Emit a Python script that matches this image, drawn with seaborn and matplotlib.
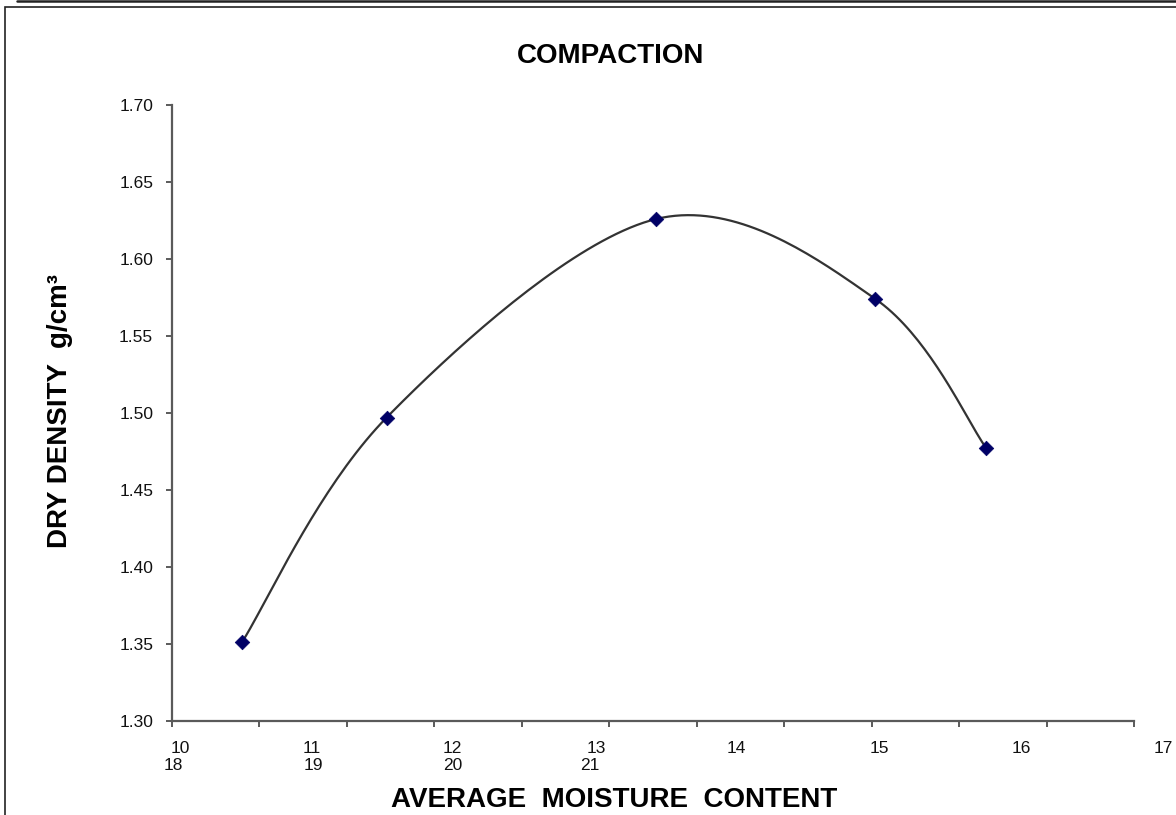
import numpy as np
import pandas as pd
import matplotlib
matplotlib.use("Agg")
import matplotlib.pyplot as plt
import seaborn as sns
from matplotlib.lines import Line2D
from matplotlib.patches import Rectangle

# Compaction test results
moisture = [10.44, 11.47, 13.39, 14.95, 15.74]
dry_density = [1.351, 1.497, 1.626, 1.574, 1.477]

# Axis text (two rows of category labels under the x axis)
x_labels_top = ["10", "11", "12", "13", "14", "15", "16", "17"]
x_pos_top = [10.0, 10.94, 11.94, 12.96, 13.96, 14.98, 15.99, 17.0]
x_labels_bottom = ["18", "19", "20", "21"]
x_pos_bottom = [9.95, 10.95, 11.94, 12.92]
y_ticks = [1.30, 1.35, 1.40, 1.45, 1.50, 1.55, 1.60, 1.65, 1.70]


def smooth_curve(xs, ys, n=40):
    """Catmull-Rom smoothing through every point (spreadsheet-style smoothed line)."""
    p = np.column_stack([xs, ys]).astype(float)
    p = np.vstack([p[0], p, p[-1]])
    out = []
    t = np.linspace(0, 1, n)[:, None]
    for i in range(1, len(p) - 2):
        p0, p1, p2, p3 = p[i - 1], p[i], p[i + 1], p[i + 2]
        c1 = p1 + (p2 - p0) / 6.0
        c2 = p2 - (p3 - p1) / 6.0
        seg = ((1 - t) ** 3) * p1 + 3 * ((1 - t) ** 2) * t * c1 + 3 * (1 - t) * t ** 2 * c2 + t ** 3 * p2
        out.append(seg if i == 1 else seg[1:])
    return np.vstack(out)


sns.set_theme(style="white")
plt.rcParams["font.family"] = ["Liberation Sans", "DejaVu Sans"]

W, H = 1176, 815
fig = plt.figure(figsize=(W / 100, H / 100), dpi=100)
ax = fig.add_axes([172 / W, 1 - 721 / H, (1134 - 172) / W, (721 - 105) / H])

df = pd.DataFrame({"moisture": moisture, "density": dry_density})
curve = smooth_curve(df["moisture"].values, df["density"].values)
cdf = pd.DataFrame({"x": curve[:, 0], "y": curve[:, 1]})

sns.lineplot(data=cdf, x="x", y="y", ax=ax, color="#333333", lw=1.6, sort=False, estimator=None)
sns.scatterplot(data=df, x="moisture", y="density", ax=ax, marker="D", s=55,
                color="#000066", edgecolor="#000066", linewidth=0.5, zorder=5)

x0, x1 = 9.943, 16.79
ax.set_xlim(x0, x1)
ax.set_ylim(1.30, 1.70)
ax.set_xticks(np.linspace(x0, x1, 12))
ax.set_xticklabels([])
ax.set_yticks(y_ticks)
ax.set_yticklabels([f"{v:.2f}" for v in y_ticks], fontsize=12.5, color="#111111")
ax.set_xlabel("")
ax.set_ylabel("")

for s in ["top", "right"]:
    ax.spines[s].set_visible(False)
for s in ["left", "bottom"]:
    ax.spines[s].set_color("#5a5a5a")
    ax.spines[s].set_linewidth(1.6)
ax.tick_params(axis="both", which="major", direction="out", length=4.5, width=1.4,
               color="#5a5a5a", left=True, bottom=True, pad=9)

# category text under the axis
xt = ax.get_xaxis_transform()
for lab, pos in zip(x_labels_top, x_pos_top):
    ax.text(pos, (721 - 741) / 616, lab, transform=xt, ha="center", va="top",
            fontsize=12.5, color="#111111", clip_on=False)
for lab, pos in zip(x_labels_bottom, x_pos_bottom):
    ax.text(pos, (721 - 758) / 616, lab, transform=xt, ha="center", va="top",
            fontsize=12.5, color="#111111", clip_on=False)

fig.text(611 / W, 1 - 56 / H, "COMPACTION", ha="center", va="center",
         fontsize=20, fontweight="bold", color="black")
fig.text(614 / W, 1 - 800 / H, "AVERAGE  MOISTURE  CONTENT", ha="center", va="center",
         fontsize=20, fontweight="bold", color="black")
fig.text(60 / W, 1 - 411 / H, "DRY DENSITY  g/cm³", ha="center", va="center",
         rotation=90, fontsize=20, fontweight="bold", color="black")

# page frame lines
fig.add_artist(Line2D([17 / W, 1.0], [1 - 1 / H, 1 - 1 / H], transform=fig.transFigure,
                      color="#222222", lw=1.8))
fig.add_artist(Rectangle((5 / W, -0.05), 1.1, 1 - 7 / H + 0.05, transform=fig.transFigure,
                         fill=False, edgecolor="#222222", lw=1.2))

fig.savefig("out.png", dpi=100)
